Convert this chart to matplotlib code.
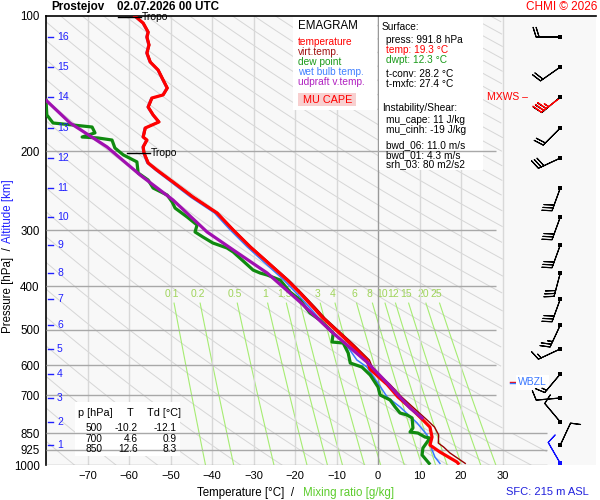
import numpy as np
import matplotlib.pyplot as plt
from matplotlib.patches import Rectangle

plt.rcParams['font.family'] = ['Liberation Sans', 'DejaVu Sans']

# Sounding (pressure in hPa, temperature in degC)
temp_p = [100, 103.7, 108.6, 111.4, 116, 120.9, 126.6, 131.9, 138.8, 144.7, 149.9, 152.3,
          159.5, 166.1, 172.2, 177.6, 186, 188.9, 195.7, 201.9, 212.5, 220.3, 234.3, 253,
          274.6, 299.7, 326.9, 353.2, 387.3, 414, 444.7, 470.6, 508, 541, 583.7, 612, 662,
          705.6, 755, 793.7, 823.4, 866.5, 902.8, 935.5, 984.7, 991.8]
temp_t = [-58.6, -56.6, -55.4, -55.7, -55.2, -55.7, -54.9, -53.0, -51.8, -50.8, -51.8, -54.5,
          -55.4, -54.2, -52.8, -56.1, -56.6, -55.7, -56.6, -56.4, -55.4, -53.3, -49.4, -44.6,
          -38.8, -34.9, -30.8, -26.7, -21.9, -18.8, -15.7, -13.3, -9.4, -6.3, -2.7, -1.9, 2.2,
          4.8, 8.4, 10.8, 12.5, 13.0, 12.5, 14.9, 19.0, 19.3]

virt_p = [100, 103.7, 108.6, 111.4, 116, 120.9, 126.6, 131.9, 138.8, 144.7, 149.9, 152.3,
          159.5, 166.1, 172.2, 177.6, 186, 188.9, 195.7, 201.9, 212.5, 220.3, 234.3, 253,
          274.6, 299.7, 326.9, 353.2, 387.3, 414, 444.7, 470.6, 508, 541, 583.7, 612, 662,
          705.6, 755, 793.7, 823.4, 857, 893.6, 912, 940, 991.8]
virt_t = [-58.4, -56.4, -55.2, -55.5, -55.0, -55.5, -54.7, -52.8, -51.6, -50.6, -51.6, -54.3,
          -55.2, -54.0, -52.6, -55.9, -56.4, -55.5, -56.4, -56.2, -55.2, -53.1, -49.2, -44.4,
          -38.6, -34.7, -30.5, -26.4, -21.5, -18.4, -15.2, -12.8, -8.9, -5.7, -2.1, -1.2, 2.9,
          5.7, 9.2, 11.8, 13.6, 14.6, 14.5, 15.8, 17.3, 21.0]

dwpt_p = [154, 166.1, 173.1, 174.9, 176.7, 182.1, 186.0, 186.9, 188.9, 196.8, 203.8, 211.3,
          223.7, 231.9, 241.6, 250.5, 259.7, 267.8, 280.3, 292.1, 302.7, 310.6, 320.3, 328.6,
          335.4, 368.0, 373.7, 377.5, 387.3, 411.9, 429.1, 458.6, 475.5, 508.7, 532.2, 535.0,
          563.1, 592.8, 605.0, 630.4, 670.7, 698.4, 716.5, 742.6, 766.0, 774.0, 785.7, 827.3,
          844.5, 848.8, 866.5, 870.9, 916.7, 950.0, 991.8]
dwpt_t = [-80.0, -79.8, -78.3, -73.5, -68.9, -68.2, -71.3, -67.5, -64.1, -63.4, -61.4, -58.1,
          -57.8, -55.4, -54.2, -50.8, -49.6, -48.9, -46.0, -43.6, -44.1, -42.2, -39.8, -36.4,
          -34.9, -30.1, -28.4, -26.7, -23.6, -21.2, -18.8, -16.4, -14.0, -10.8, -11.1, -8.4,
          -7.2, -6.7, -3.9, -1.9, 0.0, 0.5, 2.9, 4.1, 5.3, 7.0, 8.2, 8.4, 7.7, 9.6, 11.3, 12.5,
          10.8, 10.6, 12.3]

wetb_p = [100, 103.7, 108.6, 111.4, 116, 120.9, 126.6, 131.9, 138.8, 144.7, 149.9, 152.3,
          159.5, 166.1, 172.2, 177.6, 186, 188.9, 195.7, 201.9, 212.5, 220.3, 234.3, 253,
          274.6, 299.7, 326.9, 353.2, 387.3, 414, 444.7, 470.6, 508, 541, 583.7, 605, 653.5,
          705.6, 742.6, 806, 857, 893.6, 925, 960, 991.8]
wetb_t = [-58.8, -56.8, -55.6, -55.9, -55.4, -55.9, -55.1, -53.2, -52.0, -51.0, -52.0, -54.7,
          -55.6, -54.4, -53.0, -56.3, -56.8, -55.9, -56.8, -56.6, -55.7, -53.7, -49.9, -45.2,
          -39.4, -35.6, -31.5, -27.5, -22.7, -19.7, -16.6, -14.3, -10.6, -7.6, -5.1, -2.7, -0.2,
          2.2, 5.3, 9.4, 11.8, 12.5, 13.0, 13.7, 14.9]

parcel_p = [154, 173.1, 195.7, 226.1, 256.9, 302.7, 331.9, 373.7, 433.5, 508.7, 589.7, 656.9,
            746.6, 785.7]
parcel_t = [-80.0, -74.2, -65.3, -57.3, -49.4, -41.2, -34.9, -26.7, -18.8, -10.8, -2.7, 2.2,
            7.7, 10.6]

tropo_p = [100.5, 201.9]
tropo_t = [-58.6, -56.4]

# Altitude marks (km) and the pressure they sit at
alt_km = [16, 15, 14, 13, 12, 11, 10, 9, 8, 7, 6, 5, 4, 3, 2, 1]
alt_p = [111.4, 129.9, 151.5, 177.6, 207.2, 241.6, 280.3, 323.6, 373.6, 426.9, 487.9,
         551.5, 627.1, 709.2, 802.0, 902.8]

# Winds at every km plus the surface (direction deg, speed)
wind_p = alt_p + [991.8]
wind_dir = [270, 235, 230, 225, 245, 200, 200, 200, 195, 200, 205, 245, 220, 265, 320, 25, 330]
wind_spd = [20, 20, 35, 20, 30, 30, 30, 30, 30, 30, 25, 15, 15, 10, 10, 10, 10]
mxws_km = 14
wbzl_p = 655

mix_ratio = [0.1, 0.2, 0.5, 1, 1.5, 2, 3, 4, 6, 8, 10, 12, 15, 20, 25]
press_ticks = [100, 200, 300, 400, 500, 600, 700, 850, 925, 1000]
temp_ticks = [-70, -60, -50, -40, -30, -20, -10, 0, 10, 20, 30]

table_p = [500, 700, 850]
table_t = [-10.2, 4.6, 12.6]
table_td = [-12.1, 0.9, 8.3]

W, H = 600, 500
fig = plt.figure(figsize=(6, 5), dpi=100)
fig.patch.set_facecolor('white')
ax = fig.add_axes([46 / W, 35 / H, 550 / W, 449 / H])
ax.set_facecolor('#f8f8f8')
ax.set_yscale('log')
ax.set_xlim(-80, 52.5)
ax.set_ylim(1000, 100)
ft = fig.transFigure


def fx(x, y):
    return x / W, 1 - y / H


# dry adiabats, kept out of the wind panel
pp = np.logspace(2, 3, 400)
lim = np.where(pp >= 850, 40.7, 30)
for th in np.arange(190, 600, 10):
    tt = th * (pp / 1000) ** 0.286 - 273.15
    ax.plot(np.where(tt <= lim, tt, np.nan), pp, color='#d6d6d6', lw=0.7, zorder=1)

# mixing ratio lines
pm = np.linspace(436, 1000, 50)
for w in mix_ratio:
    e = w / 1000 * pm / (0.622 + w / 1000)
    a = np.log(e / 6.112)
    ax.plot(243.5 * a / (17.67 - a), pm, color='#a6ec72', lw=0.8, zorder=1)
    e = w / 1000 * 415 / (0.622 + w / 1000)
    a = np.log(e / 6.112)
    ax.text(243.5 * a / (17.67 - a), 415, f'{w:g}', color='#9fd45a', fontsize=7.5,
            ha='center', va='center', zorder=1)

for t in temp_ticks:
    ax.axvline(t, color='#999999' if t == 0 else '#d8d8d8', lw=1, zorder=1.5)

# boxes
ax.add_patch(Rectangle(fx(293, 110), 84 / W, 94 / H, transform=ft, fc='white', ec='none', zorder=2))
ax.add_patch(Rectangle(fx(379, 170), 104 / W, 154 / H, transform=ft, fc='white', ec='none', zorder=2))
ax.add_patch(Rectangle(fx(75, 456), 105 / W, 54 / H, transform=ft, fc='white', ec='none', zorder=2))
ax.add_patch(Rectangle(fx(298, 106), 58 / W, 13 / H, transform=ft, fc='#f8d0d0', ec='none', zorder=2.5))

for p in press_ticks[1:]:
    right = 40.7 if p >= 850 else 28.4
    ax.hlines(p, -80, right, color='#a8a8a8', lw=1, zorder=3)

# profiles
ax.plot(wetb_t, wetb_p, color='#3a78ff', lw=1.1, zorder=4)
ax.plot(virt_t, virt_p, color='#990000', lw=1.0, zorder=4)
ax.plot(dwpt_t, dwpt_p, color='#108a10', lw=2.3, zorder=5)
ax.plot(temp_t, temp_p, color='#ff0000', lw=2.3, zorder=6)
ax.plot(parcel_t, parcel_p, color='#a010b0', lw=2.3, zorder=6.5)

for p, t in zip(tropo_p, tropo_t):
    ax.plot([t - 4, t + 1.5], [p, p], color='black', lw=1, zorder=7, clip_on=False)
    ax.text(t + 1.7, p, 'Tropo', fontsize=7.5, va='center', ha='left', zorder=7)

# altitude marks
yt = ax.get_yaxis_transform()
for km, p in zip(alt_km, alt_p):
    ax.plot([0.003, 0.013], [p, p], color='#2020ff', lw=1, transform=yt, zorder=7)
    ax.text(0.02, p, str(km), color='#2020ff', fontsize=7.5, va='center', transform=yt, zorder=7)

# wind barbs
bx = 43.9
rad = np.deg2rad(wind_dir)
u = -np.array(wind_spd) * np.sin(rad)
v = -np.array(wind_spd) * np.cos(rad)
cols = ['black'] * (len(wind_p) - 1) + ['#1010ff']
ax.barbs(np.full(len(wind_p), bx), wind_p, u, v, length=5.9, lw=0.8, color=cols,
         zorder=8, clip_on=False)
i = alt_km.index(mxws_km)
ax.barbs([bx], [wind_p[i]], [u[i] * 1.05], [v[i] * 0.95], length=5.9, lw=0.8,
         color='red', zorder=8.5)
ax.scatter(np.full(len(wind_p), bx), wind_p, s=8, c=cols, marker='s', zorder=9, lw=0)
ax.text(bx - 7.8, wind_p[i], 'MXWS –', color='red', fontsize=7.5, ha='right', va='center')
ax.text(bx - 10.2, wbzl_p, 'WBZL', color='#3a78ff', fontsize=7.5, ha='left', va='center',
        bbox=dict(fc='white', ec='none', pad=1.5))
ax.plot([bx - 12, bx - 10.6], [wbzl_p * 0.995, wbzl_p * 0.995], color='red', lw=1)
ax.plot([bx - 12, bx - 10.6], [wbzl_p * 1.005, wbzl_p * 1.005], color='#3a78ff', lw=1)

# axes styling
ax.set_yticks(press_ticks)
ax.set_yticklabels([str(p) for p in press_ticks])
ax.minorticks_off()
ax.set_xticks(temp_ticks)
ax.tick_params(length=0, labelsize=8, pad=4)
ax.tick_params(axis='y', pad=4.5, labelsize=8.3)
for s in ['right', 'bottom']:
    ax.spines[s].set_visible(False)
ax.spines['left'].set_linewidth(1.2)
ax.spines['top'].set_linewidth(1.2)

# texts
def t(x, y, s, **kw):
    kw.setdefault('fontsize', 7.3)
    kw.setdefault('va', 'center')
    ax.text(*fx(x, y), s, transform=ft, zorder=9, clip_on=False, **kw)


t(51, 7, 'Prostejov', fontsize=8.4, fontweight='bold')
t(117, 7, '02.07.2026 00 UTC', fontsize=8.4, fontweight='bold')
t(597, 7, 'CHMI © 2026', color='red', fontsize=8.5, ha='right')

t(298, 26, 'EMAGRAM', fontsize=8.3)
legend = [('temperature', '#ff0000'), ('virt.temp.', '#a01010'), ('dew point', '#1a9a1a'),
          ('wet bulb temp.', '#4080ff'), ('udpraft v.temp.', '#b020c0')]
for k, (s, c) in enumerate(legend):
    t(298, 42 + 10 * k, s, color=c)
t(303, 100, 'MU CAPE', color='red', fontsize=7.8)

t(382, 27, 'Surface:')
info = [(40, 'press: 991.8 hPa', 'black'), (50, 'temp: 19.3 °C', 'red'),
        (60, 'dwpt: 12.3 °C', '#1a9a1a'), (74, 't-conv: 28.2 °C', 'black'),
        (84, 't-mxfc: 27.4 °C', 'black')]
for y, s, c in info:
    t(386, y, s, color=c)
t(382, 108, 'Instability/Shear:')
for y, s in [(120, 'mu_cape: 11 J/kg'), (130, 'mu_cinh: -19 J/kg'), (145, 'bwd_06: 11.0 m/s'),
             (155, 'bwd_01: 4.3 m/s'), (164, 'srh_03: 80 m2/s2')]:
    t(386, y, s)

t(78, 413, 'p [hPa]', fontsize=7.8)
t(130, 413, 'T', fontsize=7.8, ha='center')
t(147, 413, 'Td [°C]', fontsize=7.8)
for k, (p, a, b) in enumerate(zip(table_p, table_t, table_td)):
    y = 428 + 10.5 * k
    t(102, y, str(p), ha='right')
    t(138, y, f'{a:.1f}', ha='right')
    t(177, y, f'{b:.1f}', ha='right')

t(197, 493, 'Temperature [°C]  /', fontsize=8.3)
t(303, 493, 'Mixing ratio [g/kg]', fontsize=8.3, color='#5ccc2c')
t(589, 492, 'SFC: 215 m ASL', fontsize=8, color='#2020dd', ha='right')
t(8, 333, 'Pressure [hPa]  /', fontsize=8.3, rotation=90, ha='center', va='bottom')
t(8, 243, 'Altitude [km]', fontsize=8.3, rotation=90, ha='center', va='bottom', color='#2020ff')

fig.savefig('out.png', dpi=100)
